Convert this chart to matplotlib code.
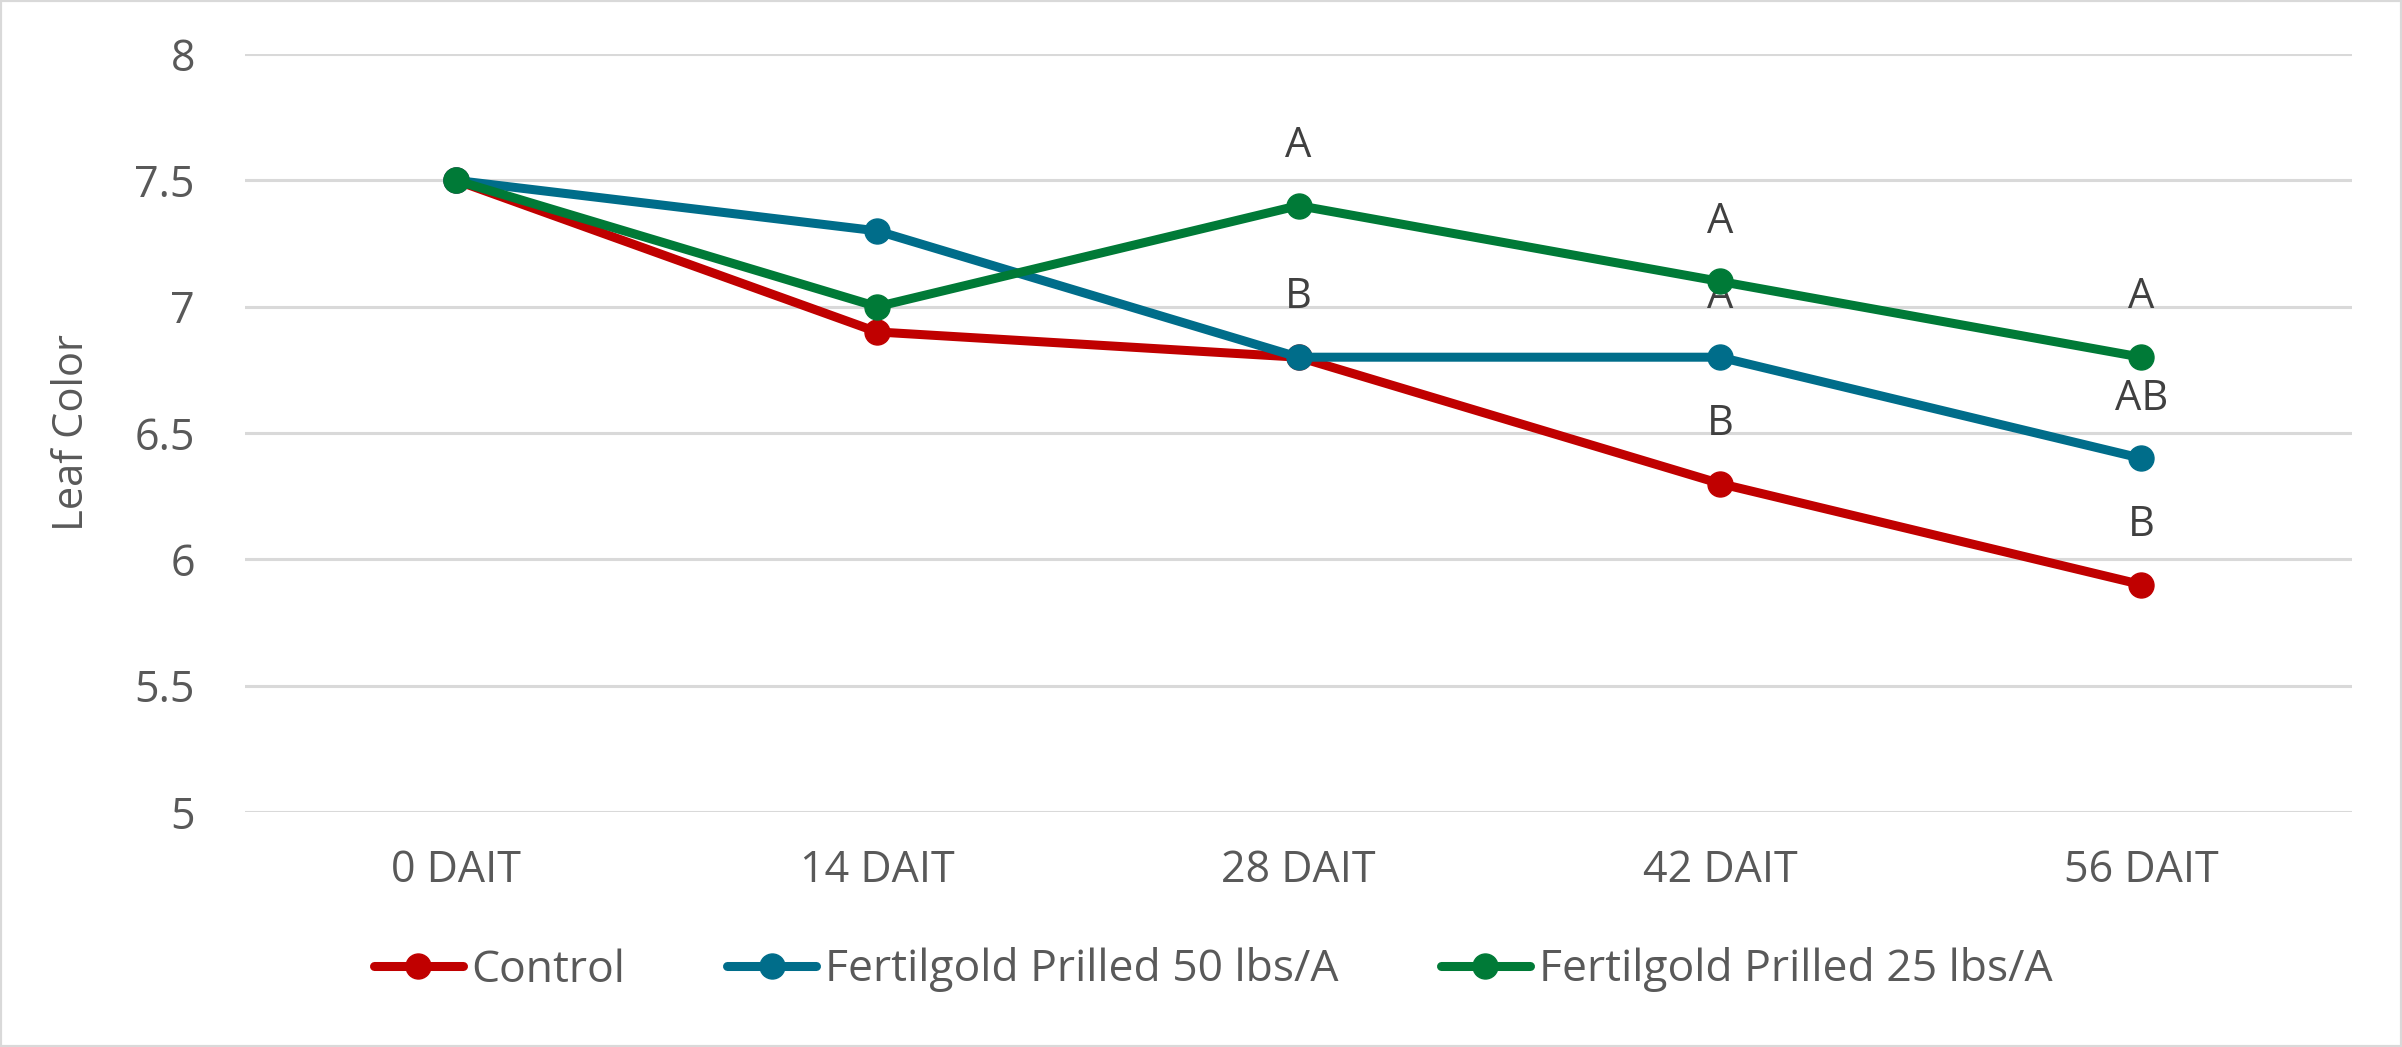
import matplotlib.pyplot as plt
from matplotlib.patches import Rectangle

# data
categories = ['0 DAIT', '14 DAIT', '28 DAIT', '42 DAIT', '56 DAIT']
control = [7.5, 6.9, 6.8, 6.3, 5.9]
prilled_50 = [7.5, 7.3, 6.8, 6.8, 6.4]
prilled_25 = [7.5, 7.0, 7.4, 7.1, 6.8]
control_letters = ['', '', '', 'B', 'B']
prilled_50_letters = ['', '', 'B', 'A', 'AB']
prilled_25_letters = ['', '', 'A', 'A', 'A']
series_names = ['Control', 'Fertilgold Prilled 50 lbs/A', 'Fertilgold Prilled 25 lbs/A']
colors = ['#C00000', '#006D8A', '#007A37']

plt.rcParams['font.family'] = ['Open Sans', 'DejaVu Sans']
text_color = '#595959'

fig = plt.figure(figsize=(24.02, 10.47), dpi=100)
ax = fig.add_axes([245 / 2402, 1 - 812 / 1047, (2352 - 245) / 2402, (812 - 54) / 1047])

x = list(range(len(categories)))
all_series = [(control, control_letters), (prilled_50, prilled_50_letters), (prilled_25, prilled_25_letters)]
for (vals, letters), name, c in zip(all_series, series_names, colors):
    ax.plot(x, vals, color=c, lw=6.5, marker='o', markersize=18, label=name, solid_capstyle='round', zorder=3)
    for xi, v, lab in zip(x, vals, letters):
        if lab:
            ax.annotate(lab, (xi, v), xytext=(0, 43), textcoords='offset points',
                        ha='center', va='center', fontsize=30, color='#404040')

ax.set_xlim(-0.5, len(categories) - 0.5)
ax.set_ylim(5, 8)
ax.set_yticks([5, 5.5, 6, 6.5, 7, 7.5, 8])
ax.set_yticklabels(['5', '5.5', '6', '6.5', '7', '7.5', '8'])
ax.set_xticks(x)
ax.set_xticklabels(categories)
ax.tick_params(axis='both', length=0, labelsize=31, labelcolor=text_color)
ax.tick_params(axis='y', pad=36)
ax.tick_params(axis='x', pad=26)
ax.grid(axis='y', color='#D9D9D9', lw=2.2)
ax.set_axisbelow(True)
for s in ax.spines.values():
    s.set_visible(False)

ax.set_ylabel('Leaf Color', fontsize=30, color=text_color, labelpad=30)

ax.legend(loc='center', bbox_to_anchor=(0.505, 1 - 970 / 1047), bbox_transform=fig.transFigure,
          ncol=3, frameon=False, fontsize=32, labelcolor=text_color, handlelength=2.0,
          handletextpad=0.2, columnspacing=2.3)

fig.patches.append(Rectangle((0, 0), 1, 1, transform=fig.transFigure, fill=False,
                             edgecolor='#D9D9D9', lw=3))

fig.savefig('out.png', dpi=100)
